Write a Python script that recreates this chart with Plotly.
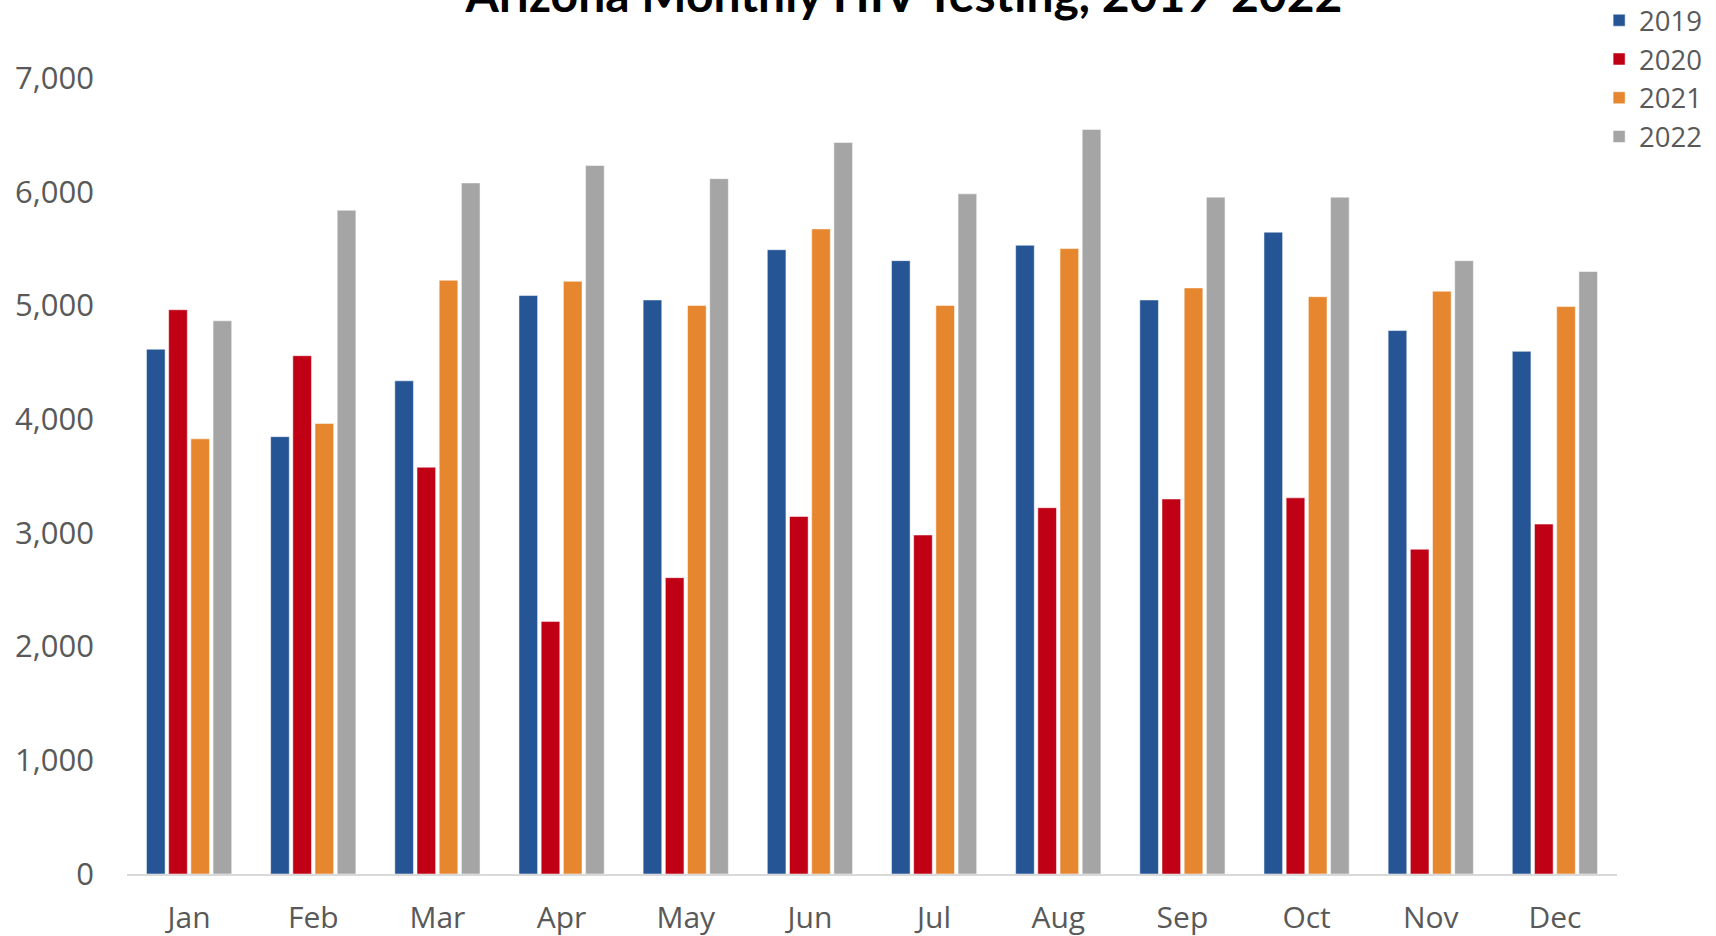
import plotly.graph_objects as go

months = ["Jan", "Feb", "Mar", "Apr", "May", "Jun", "Jul", "Aug", "Sep", "Oct", "Nov", "Dec"]
years = ["2019", "2020", "2021", "2022"]
tests_2019 = [4615, 3846, 4337, 5087, 5048, 5490, 5394, 5529, 5048, 5644, 4779, 4596]
tests_2020 = [4962, 4558, 3577, 2221, 2606, 3144, 2981, 3221, 3298, 3308, 2856, 3077]
tests_2021 = [3827, 3962, 5221, 5212, 5000, 5673, 5000, 5500, 5154, 5077, 5125, 4990]
tests_2022 = [4865, 5837, 6077, 6231, 6115, 6433, 5981, 6548, 5952, 5952, 5394, 5298]
series = [tests_2019, tests_2020, tests_2021, tests_2022]
colors = ["#265596", "#C00014", "#E6872F", "#A5A5A5"]

fig = go.Figure()
for name, vals, col in zip(years, series, colors):
    fig.add_trace(go.Bar(
        x=months, y=vals, name=name, legendgroup=name,
        marker=dict(color=col, line=dict(color="white", width=0.5)),
    ))

fig.update_layout(
    width=1716, height=936,
    paper_bgcolor="white", plot_bgcolor="white",
    margin=dict(l=127, r=99, t=78, b=62, autoexpand=False),
    barmode="group", bargap=0.285, bargroupgap=0.16,
    title=dict(text="<b>Arizona Monthly HIV Testing, 2019-2022</b>",
               x=904/1716, xanchor="center", xref="container",
               y=1 - 12/936, yanchor="bottom", yref="container",
               font=dict(family="Lato", size=48, color="black")),
    legend=dict(x=0.988, xanchor="left", y=1.1032, yanchor="top", yref="paper",
                font=dict(family="Open Sans", size=27.5, color="#595959"),
                tracegroupgap=0, bgcolor="rgba(0,0,0,0)"),
    showlegend=True,
)
fig.update_xaxes(showline=True, linecolor="#D9D9D9", linewidth=2, showgrid=False,
                 ticks="", ticklabelstandoff=16,
                 tickfont=dict(family="Open Sans", size=30, color="#595959"))
fig.update_yaxes(range=[0, 7000], dtick=1000, tickformat=",", showgrid=False,
                 zeroline=False, showline=False, ticks="", ticklabelstandoff=32,
                 tickfont=dict(family="Open Sans", size=31, color="#595959"))

fig.write_html("out.html", config={"displayModeBar": False},
               post_script="document.body.style.margin='0';")
